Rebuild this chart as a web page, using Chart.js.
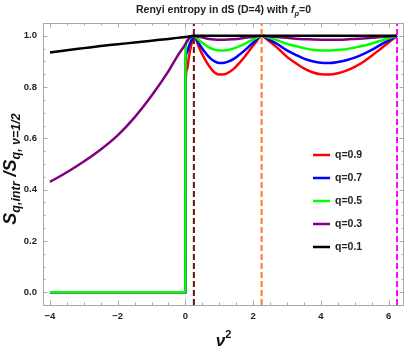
<!DOCTYPE html>
<html>
<head>
<meta charset="utf-8">
<script src="https://cdn.jsdelivr.net/npm/chart.js@4.4.1/dist/chart.umd.min.js"></script>
<style>
  html, body { margin: 0; padding: 0; background: #fff; }
  #wrap { width: 409px; height: 354px; }
</style>
</head>
<body>
<div id="wrap"><canvas id="chart" width="409" height="354"></canvas></div>
<script>
// nu^2 positions shared by every curve (0.001 carries the jump at nu^2 = 0)
const nu2 = [-4, -3.5, -3, -2.5, -2, -1.5, -1, -0.5, -0.25, 0, 0.001, 0.05, 0.1, 0.175, 0.25,
  0.4, 0.55, 0.7, 0.85, 1.0, 1.15, 1.3, 1.45, 1.6, 1.75, 1.9, 2.05, 2.25,
  2.45, 2.7, 3.0, 3.25, 3.5, 3.75, 4.0, 4.25, 4.5, 4.75, 5.0, 5.25, 5.5, 5.75, 6.0, 6.25];

const q09 = [0, 0, 0, 0, 0, 0, 0, 0, 0, 0, 0.80, 0.868, 0.915, 0.965, 1.0,
  0.955, 0.915, 0.882, 0.858, 0.849, 0.850, 0.859, 0.874, 0.895, 0.918, 0.945, 0.970, 1.0,
  0.982, 0.955, 0.918, 0.894, 0.873, 0.858, 0.850, 0.849, 0.854, 0.864, 0.879, 0.898, 0.922, 0.948, 0.974, 1.0];

const q07 = [0, 0, 0, 0, 0, 0, 0, 0, 0, 0, 0.90, 0.935, 0.958, 0.982, 1.0,
  0.969, 0.941, 0.917, 0.901, 0.894, 0.895, 0.901, 0.912, 0.927, 0.943, 0.962, 0.979, 1.0,
  0.987, 0.969, 0.943, 0.926, 0.911, 0.901, 0.895, 0.894, 0.898, 0.905, 0.915, 0.929, 0.945, 0.964, 0.982, 1.0];

const q05 = [0, 0, 0, 0, 0, 0, 0, 0, 0, 0, 0.945, 0.975, 0.986, 0.995, 1.0,
  0.983, 0.968, 0.955, 0.946, 0.943, 0.943, 0.946, 0.952, 0.960, 0.969, 0.979, 0.989, 1.0,
  0.993, 0.983, 0.969, 0.960, 0.952, 0.946, 0.943, 0.943, 0.945, 0.948, 0.954, 0.961, 0.970, 0.980, 0.990, 1.0];

const q03 = [0.430, 0.468, 0.510, 0.557, 0.612, 0.682, 0.766, 0.862, 0.918, 0.968, null, 0.980, 0.989, 0.996, 1.0,
  0.996, 0.992, 0.988, 0.986, 0.985, 0.985, 0.986, 0.987, 0.989, 0.992, 0.994, 0.997, 1.0,
  0.998, 0.995, 0.992, 0.989, 0.987, 0.986, 0.985, 0.985, 0.985, 0.986, 0.988, 0.990, 0.992, 0.995, 0.997, 1.0];

const q01 = [0.935, 0.944, 0.952, 0.960, 0.967, 0.974, 0.981, 0.988, 0.992, 0.995, null, 0.996, 0.997, 0.999, 1.0,
  1, 1, 1, 1, 1, 1, 1, 1, 1, 1, 1, 1, 1,
  1, 1, 1, 1, 1, 1, 1, 1, 1, 1, 1, 1, 1, 1, 1, 1];

const seriesLabels = ['q=0.9', 'q=0.7', 'q=0.5', 'q=0.3', 'q=0.1'];
const seriesValues = [q09, q07, q05, q03, q01];
const seriesColors = ['#ff0000', '#0000ff', '#00ff00', '#800080', '#000000'];

// dashed verticals at nu = 1/2, 3/2, 5/2
const markerNu2 = [0.25, 2.25, 6.25];
const markerColors = ['#5e1414', '#ff7a22', '#ff00ff'];

const xTicks = [-4, -2, 0, 2, 4, 6];
const yTicks = [0, 0.2, 0.4, 0.6, 0.8, 1.0];
const xMin = -4.205, xMax = 6.455;
const yMin = -0.05, yMax = 1.05;

const FONT = "'Liberation Sans', Arial, sans-serif";

function drawRich(ctx, parts, x, y) {
  let w = 0;
  parts.forEach(p => { ctx.font = p[1]; w += ctx.measureText(p[0]).width; });
  let cx = x - w / 2;
  parts.forEach(p => {
    ctx.font = p[1];
    ctx.fillText(p[0], cx, y + p[2]);
    cx += ctx.measureText(p[0]).width;
  });
}

const framePlugin = {
  id: 'frame',
  beforeDatasetsDraw(chart) {
    const { ctx, chartArea: a, scales: { x, y } } = chart;
    ctx.save();
    ctx.lineWidth = 1;
    ctx.strokeStyle = '#dcdcdc';
    const x0 = Math.round(x.getPixelForValue(0)) + 0.5;
    ctx.beginPath(); ctx.moveTo(x0, a.top); ctx.lineTo(x0, a.bottom); ctx.stroke();

    ctx.strokeStyle = '#a8a8a8';
    ctx.beginPath();
    for (let i = 0; i <= 20; i++) {
      const v = -4 + i * 0.5;
      const p = Math.round(x.getPixelForValue(v)) + 0.5;
      const len = i % 4 === 0 ? 4.5 : 2.5;
      ctx.moveTo(p, a.bottom); ctx.lineTo(p, a.bottom - len);
      ctx.moveTo(p, a.top); ctx.lineTo(p, a.top + len);
    }
    for (let i = 0; i <= 20; i++) {
      const v = i * 0.05;
      const p = Math.round(y.getPixelForValue(v)) + 0.5;
      const len = i % 4 === 0 ? 4.5 : 2.5;
      ctx.moveTo(a.left, p); ctx.lineTo(a.left + len, p);
      ctx.moveTo(a.right, p); ctx.lineTo(a.right - len, p);
    }
    ctx.stroke();
    ctx.restore();
  },
  afterDraw(chart) {
    const { ctx, chartArea: a } = chart;
    ctx.save();
    ctx.strokeStyle = '#a8a8a8';
    ctx.lineWidth = 1;
    ctx.strokeRect(Math.round(a.left) + 0.5, Math.round(a.top) + 0.5,
      Math.round(a.right - a.left) - 1, Math.round(a.bottom - a.top));

    ctx.fillStyle = '#222';
    ctx.textBaseline = 'alphabetic';
    const cx = (a.left + a.right) / 2;

    // title
    drawRich(ctx, [
      ['Renyi entropy in dS (D=4) with ', 'bold 10.5px ' + FONT, 0],
      ['f', 'italic bold 10.5px ' + FONT, 0],
      ['p', 'italic bold 7.5px ' + FONT, 2.5],
      ['=0', 'bold 10.5px ' + FONT, 0]
    ], cx, 13);

    // x axis title
    ctx.fillStyle = '#111';
    drawRich(ctx, [
      ['\u03bd', 'italic bold 17px ' + FONT, 0],
      ['2', 'bold 11px ' + FONT, -8]
    ], cx, 346);

    // y axis title
    ctx.save();
    ctx.translate(16, 169);
    ctx.rotate(-Math.PI / 2);
    drawRich(ctx, [
      ['S', 'italic bold 18px ' + FONT, 0],
      ['q,intr', 'italic bold 12.5px ' + FONT, 3.5],
      [' /', 'italic bold 18px ' + FONT, 0],
      ['S', 'italic bold 18px ' + FONT, 0],
      ['q, \u03bd=1/2', 'italic bold 12.5px ' + FONT, 3.5]
    ], 0, 0);
    ctx.restore();

    // legend
    ctx.textBaseline = 'middle';
    ctx.font = 'bold 10.5px ' + FONT;
    seriesLabels.forEach((lab, i) => {
      const ly = 155 + i * 23;
      ctx.strokeStyle = seriesColors[i];
      ctx.lineWidth = 2.5;
      ctx.beginPath(); ctx.moveTo(313, ly); ctx.lineTo(330, ly); ctx.stroke();
      ctx.fillStyle = '#222';
      ctx.fillText(lab, 335, ly + 0.5);
    });
    ctx.restore();
  }
};

const datasets = [];
markerNu2.forEach((m, i) => {
  datasets.push({
    label: 'marker' + i,
    data: [{ x: m, y: yMin }, { x: m, y: yMax }],
    borderColor: markerColors[i],
    borderWidth: 2,
    borderDash: [6, 3],
    pointRadius: 0,
    tension: 0,
    fill: false
  });
});
// black last in legend order but drawn on top, so add in reverse
for (let i = seriesValues.length - 1; i >= 0; i--) {
  datasets.push({
    label: seriesLabels[i],
    data: nu2.map((v, k) => ({ x: v, y: seriesValues[i][k] })),
    borderColor: seriesColors[i],
    borderWidth: 2.5,
    pointRadius: 0,
    cubicInterpolationMode: 'monotone',
    spanGaps: true,
    fill: false
  });
}

new Chart(document.getElementById('chart'), {
  type: 'line',
  data: { datasets },
  options: {
    responsive: false,
    animation: false,
    devicePixelRatio: 1,
    layout: { padding: { top: 23, right: 5, left: 0, bottom: 0 } },
    plugins: { legend: { display: false }, tooltip: { enabled: false }, title: { display: false } },
    scales: {
      x: {
        type: 'linear', min: xMin, max: xMax,
        grid: { display: false, drawTicks: false },
        border: { display: false },
        afterBuildTicks: s => { s.ticks = xTicks.map(v => ({ value: v })); },
        afterFit: s => { s.height = 49; },
        ticks: {
          padding: 6,
          color: '#222',
          font: { family: FONT, size: 9.5, weight: 'bold' },
          callback: v => (v < 0 ? '\u2212' + Math.abs(v) : String(v))
        }
      },
      y: {
        type: 'linear', min: yMin, max: yMax,
        grid: { display: false, drawTicks: false },
        border: { display: false },
        afterBuildTicks: s => { s.ticks = yTicks.map(v => ({ value: v })); },
        afterFit: s => { s.width = 43; },
        ticks: {
          padding: 6,
          color: '#222',
          font: { family: FONT, size: 9.5, weight: 'bold' },
          callback: v => Number(v).toFixed(1)
        }
      }
    }
  },
  plugins: [framePlugin]
});
</script>
</body>
</html>
